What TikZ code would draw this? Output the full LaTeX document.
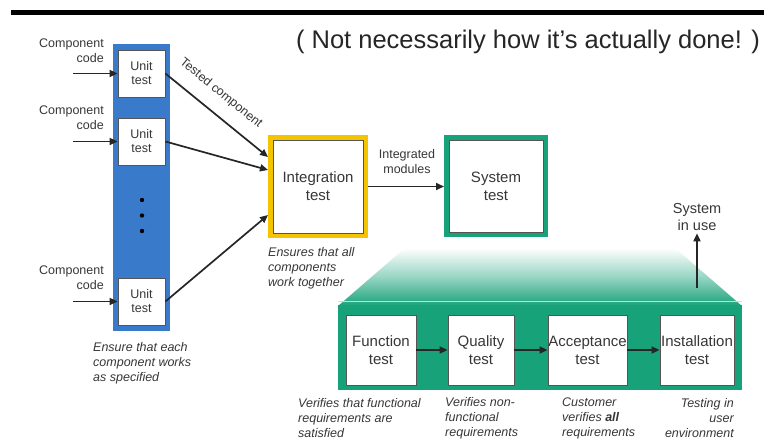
\documentclass[tikz,border=0pt]{standalone}
\usepackage{fontspec}
\setmainfont{Liberation Sans}
\usetikzlibrary{arrows.meta,calc}
\definecolor{ublue}{RGB}{58,122,202}
\definecolor{intyellow}{RGB}{245,196,0}
\definecolor{tealg}{RGB}{24,162,122}
\definecolor{txtgray}{RGB}{55,55,55}
\definecolor{boxgray}{RGB}{85,85,85}
\begin{document}
\begin{tikzpicture}[x=1pt,y=-1pt,
  txt/.style={text=txtgray, inner sep=0pt},
  lbl/.style={txt, font=\fontsize{12.5}{15}\selectfont, align=center},
  lblr/.style={txt, font=\fontsize{12.5}{15}\selectfont, align=right, anchor=east},
  captxt/.style={txt, font=\fontsize{12.5}{15}\selectfont\itshape, align=left, anchor=west},
  captxtr/.style={txt, font=\fontsize{12.5}{15}\selectfont\itshape, align=right, anchor=east},
  unitbox/.style={draw=boxgray, line width=0.8pt, fill=white, minimum width=47pt, minimum height=47pt, inner sep=0pt, align=center, text=txtgray, font=\fontsize{12.5}{14}\selectfont},
  bigbox/.style={draw=boxgray, line width=0.8pt, fill=white, inner sep=0pt, align=center, text=txtgray, font=\fontsize{15}{18}\selectfont},
  integbox/.style={bigbox, preaction={draw=intyellow, line width=10pt}, outer sep=5pt},
  sysbox/.style={bigbox, preaction={draw=tealg, line width=10pt}, outer sep=5pt},
  stagebox/.style={bigbox, minimum height=70pt},
  arr/.style={-{Triangle[length=8pt,width=7pt]}, line width=1.7pt, draw=black!85}
]
\useasboundingbox (0,0) rectangle (764,443);
\fill[white] (0,0) rectangle (764,443);

% top rule and title
\draw[line width=4.5pt, black] (11,12.5) -- (764,12.5);
\node[text=black!85, inner sep=0pt, font=\fontsize{25.5}{30}\selectfont] (title) at (528,42) {( Not necessarily how it's actually done! )};

% unit test column
\node[fill=ublue, minimum width=57pt, minimum height=287pt, inner sep=0pt] (col) at (141.5,187.5) {};
\node[unitbox] (u1) at (141.5,73.5) {Unit\\test};
\node[unitbox] (u2) at (141.5,141.5) {Unit\\test};
\node[unitbox] (u3) at (141.5,301.5) {Unit\\test};
\fill[black] (142,200) circle (2.2pt) (142,215.5) circle (2.2pt) (142,231) circle (2.2pt);

% component code inputs
\node[lblr] (cc1) at (104,50.5) {Component\\code};
\node[lblr] (cc2) at (104,117.5) {Component\\code};
\node[lblr] (cc3) at (104,277.5) {Component\\code};
\coordinate (i1) at (73,73.5);
\coordinate (i2) at (73,141.5);
\coordinate (i3) at (73,301.5);
\draw[arr] (i1) -- (u1.west);
\draw[arr] (i2) -- (u2.west);
\draw[arr] (i3) -- (u3.west);

% integration and system test
\node[integbox, minimum width=90pt, minimum height=93pt] (integ) at (318,186.5) {Integration\\test};
\node[sysbox, minimum width=94pt, minimum height=92pt] (sys) at (496,186.5) {System\\test};

\draw[arr] (u1.east) -- node[sloped, above=13pt, pos=0.42, txt, font=\fontsize{12.5}{15}\selectfont] (tc) {Tested component} ([yshift=29.5pt]integ.west);
\draw[arr] (u2.east) -- ([yshift=16.5pt]integ.west);
\draw[arr] (u3.east) -- ([yshift=-28.5pt]integ.west);

\draw[arr] (integ.east) -- (sys.west);
\node[lbl] (im) at (407,162) {Integrated\\modules};

\node[captxt] (c_int) at (268,268) {Ensures that all\\components\\work together};
\node[captxt] (c_unit) at (93,363) {Ensure that each\\component works\\as specified};

% system in use
\node[txt, align=center, font=\fontsize{14.5}{17}\selectfont, inner sep=2pt] (siu) at (697,217.5) {System\\in use};
\coordinate (sb) at (697,288);

% zoom trapezoid
\shade[top color=white, bottom color=tealg, middle color=tealg!45] (338,306) -- (405,248) -- (675,248) -- (742,306) -- cycle;
\draw[arr] (sb) -- (siu.south);

% stage panel
\node[fill=tealg, minimum width=404pt, minimum height=85pt, inner sep=0pt] (panel) at (540,347.5) {};
\draw[white!70!tealg, line width=0.8pt] (panel.north west) ++(0,-3) -- ++(404,0);
\node[stagebox, minimum width=70pt] (fn) at (381,350) {Function\\test};
\node[stagebox, minimum width=66pt] (ql) at (481,350) {Quality\\test};
\node[stagebox, minimum width=79pt] (ac) at (587.5,350) {Acceptance\\test};
\node[stagebox, minimum width=74pt] (in) at (697,350) {Installation\\test};
\draw[arr] (fn.east) -- (ql.west);
\draw[arr] (ql.east) -- (ac.west);
\draw[arr] (ac.east) -- (in.west);

% captions
\node[captxt] (cf) at (298,418.5) {Verifies that functional\\requirements are\\satisfied};
\node[captxt] (cq) at (445,418.5) {Verifies non-\\functional\\requirements};
\node[captxt] (ca) at (562,418.5) {Customer\\verifies \textbf{all}\\requirements};
\node[captxtr] (ci) at (734,418.5) {Testing in\\user\\environment};
\end{tikzpicture}
\end{document}
